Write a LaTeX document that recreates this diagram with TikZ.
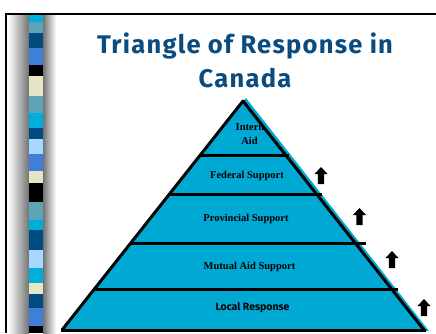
\documentclass[tikz,border=0pt]{standalone}
\usepackage{fontspec}
\setmainfont{Liberation Serif}
\newfontfamily\titlefont[LetterSpace=5]{Fira Sans}
\newfontfamily\labelsans{Fira Sans}
\definecolor{titleblue}{RGB}{10,75,128}
\definecolor{pyrcyan}{RGB}{0,168,212}
\definecolor{scyan}{RGB}{0,174,219}
\definecolor{ssteel}{RGB}{95,163,184}
\definecolor{sdark}{RGB}{0,75,128}
\definecolor{smed}{RGB}{63,127,217}
\definecolor{sbeige}{RGB}{230,230,198}
\definecolor{slight}{RGB}{168,216,255}
\definecolor{sblack}{RGB}{0,0,0}
\tikzset{
  levellabel/.style={anchor=base, inner sep=0pt, font=\fontsize{10.5}{12}\selectfont\bfseries},
  titlelabel/.style={anchor=base, inner sep=0pt, text=titleblue, font=\titlefont\fontsize{25.5}{28}\selectfont\bfseries},
  divider/.style={line width=3pt},
  edge/.style={line width=3pt, line join=round},
  uparrow/.style={fill=black}
}
\newcommand{\blockarrow}[2]{%
  \fill[uparrow] (#1,#2) -- ++(6.5,7) -- ++(-3.3,0) -- ++(0,10) -- ++(-6.4,0) -- ++(0,-10) -- ++(-3.3,0) -- cycle;}
\begin{document}
\begin{tikzpicture}[x=1pt,y=-1pt]
\useasboundingbox (0,0) rectangle (436,333);
\fill[white] (0,0) rectangle (436,333);
% shadow around stripe
\shade[left color=white, right color=black!55] (8,15) rectangle (29,333);
\shade[left color=black!55, right color=white] (43,15) rectangle (56,333);
% stripe
\foreach \ya/\yb/\c in {15/22/scyan,22/33/ssteel,33/48/sdark,48/65/smed,65/76/sblack,76/96/sbeige,96/113/ssteel,113/128/scyan,128/139/sdark,139/154/slight,154/171/smed,171/183/sbeige,183/202/sblack,202/220/ssteel,220/230/scyan,230/250/sdark,250/268/slight,268/283/scyan,283/294/sbeige,294/308/sdark,308/326/smed,326/333/sblack}
  \fill[\c] (29,\ya) rectangle (43,\yb);
% border
\draw[line width=2pt] (6,333) -- (6,14) -- (436,14);
% title
\node[titlelabel] (t1) at (245,53) {Triangle of Response in};
\node[titlelabel] (t2) at (245,87) {Canada};
% pyramid
\fill[pyrcyan] (246,98) -- (429,331) -- (62,331) -- cycle;
\coordinate (apex) at (243,101);
\coordinate (bl) at (62,330);
\coordinate (br) at (424,330);
\draw[edge] (bl) -- (apex) -- (br);
\draw[divider] (61,330) -- (426,330);
\draw[divider] (199,155) -- (289,155);
\draw[divider] (169,194) -- (322,194);
\draw[divider] (130,243) -- (366,243);
\draw[divider] (94,289) -- (398,289);
% labels
\node[levellabel] (l1a) at (250,130) {Intern};
\node[levellabel] (l1b) at (249.5,144) {Aid};
\node[levellabel] (l2) at (247,178) {Federal Support};
\node[levellabel] (l3) at (246,221) {Provincial Support};
\node[levellabel] (l4) at (249.5,269) {Mutual Aid Support};
\node[anchor=base, inner sep=0pt, font=\labelsans\fontsize{10.5}{12}\selectfont\bfseries] (l5) at (252.5,310) {Local Response};
% arrows
\blockarrow{321}{167}
\blockarrow{359.5}{208}
\blockarrow{392}{251}
\blockarrow{424}{299}
\end{tikzpicture}
\end{document}
